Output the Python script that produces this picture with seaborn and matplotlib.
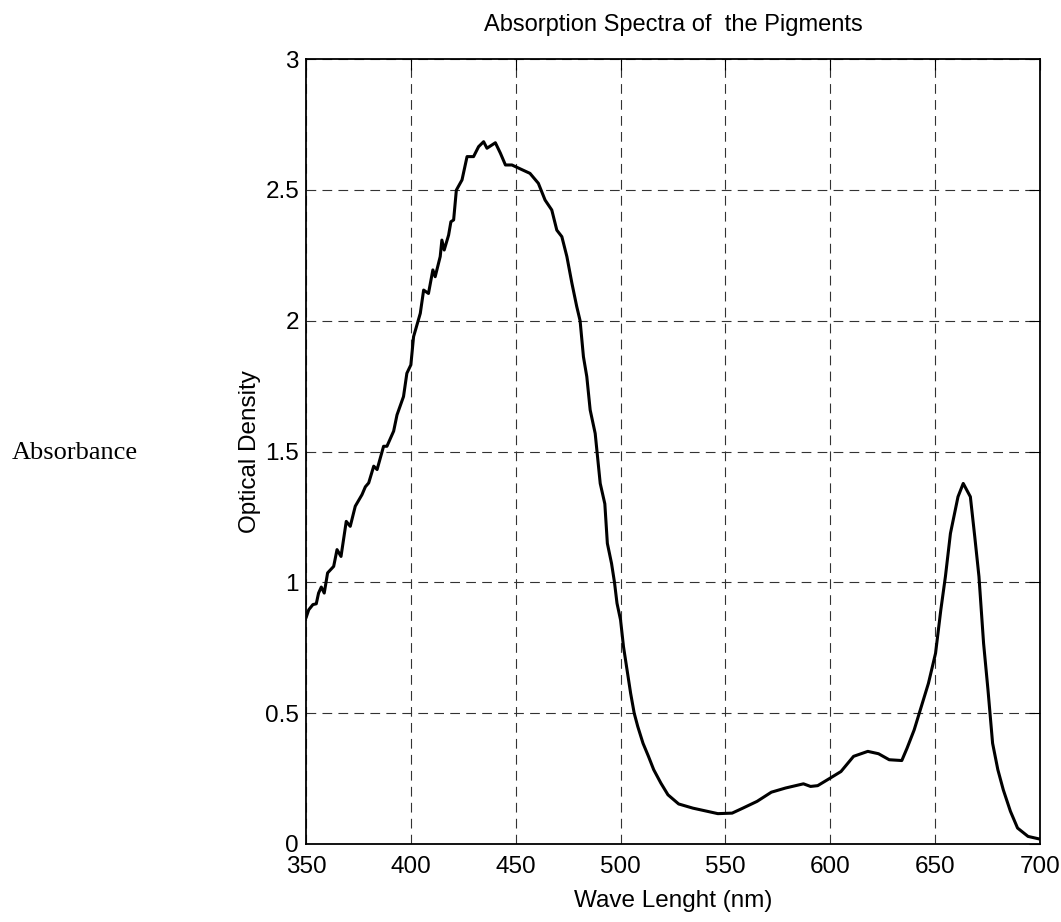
import numpy as np
import pandas as pd
import seaborn as sns
import matplotlib.pyplot as plt

# wavelength (nm) and optical density
wavelength = [350.0, 351.3, 353.3, 354.9, 356.0, 357.3, 358.7, 360.3, 363.2, 364.8,
              366.7, 369.2, 371.1, 373.5, 376.7, 378.3, 379.9, 382.3, 383.9, 387.0,
              388.6, 391.8, 393.4, 396.5, 398.1, 400.0, 401.3, 404.5, 406.1, 408.4,
              410.5, 411.6, 414.0, 414.8, 415.9, 418.0, 419.1, 420.4, 421.7, 424.4,
              426.8, 429.9, 432.3, 434.7, 436.3, 440.3, 442.7, 445.1, 448.2, 452.2,
              456.8, 460.8, 464.0, 467.2, 469.6, 472.0, 474.4, 476.8, 479.1, 480.7,
              482.3, 483.9, 485.5, 487.9, 490.3, 492.5, 493.7, 495.7, 497.1, 498.3,
              500.0, 501.4, 503.1, 504.8, 506.5, 508.2, 510.7, 513.3, 515.8, 519.2,
              522.6, 527.7, 534.5, 541.3, 546.4, 553.2, 558.3, 565.1, 571.9, 578.7,
              587.2, 590.6, 594.0, 600.0, 605.1, 611.1, 617.9, 623.0, 628.1, 634.1,
              636.6, 640.0, 643.4, 646.8, 650.2, 652.7, 654.9, 657.3, 660.9, 663.4,
              666.8, 668.9, 670.9, 673.1, 675.2, 677.4, 679.9, 682.5, 685.9, 689.3,
              694.3, 699.8]
optical_density = [0.864, 0.895, 0.915, 0.918, 0.959, 0.982, 0.959, 1.036, 1.061, 1.125,
                   1.099, 1.233, 1.214, 1.291, 1.335, 1.365, 1.380, 1.444, 1.431, 1.520,
                   1.520, 1.578, 1.640, 1.710, 1.799, 1.831, 1.939, 2.028, 2.117, 2.104,
                   2.194, 2.168, 2.245, 2.308, 2.270, 2.327, 2.378, 2.385, 2.499, 2.538,
                   2.627, 2.627, 2.665, 2.684, 2.659, 2.680, 2.640, 2.595, 2.595, 2.580,
                   2.563, 2.525, 2.461, 2.423, 2.346, 2.321, 2.245, 2.143, 2.054, 2.000,
                   1.862, 1.786, 1.659, 1.569, 1.378, 1.300, 1.149, 1.072, 1.000, 0.920,
                   0.856, 0.754, 0.665, 0.576, 0.500, 0.449, 0.385, 0.335, 0.284, 0.233,
                   0.188, 0.153, 0.137, 0.125, 0.116, 0.118, 0.137, 0.163, 0.198, 0.214,
                   0.230, 0.220, 0.223, 0.252, 0.277, 0.335, 0.354, 0.345, 0.322, 0.319,
                   0.366, 0.436, 0.525, 0.614, 0.729, 0.894, 1.022, 1.187, 1.327, 1.378,
                   1.327, 1.174, 1.022, 0.767, 0.589, 0.385, 0.284, 0.207, 0.125, 0.061,
                   0.029, 0.019]

x_ticks = [350, 400, 450, 500, 550, 600, 650, 700]
y_ticks = [0, 0.5, 1, 1.5, 2, 2.5, 3]
y_ticklabels = ['0', '0.5', '1', '1.5', '2', '2.5', '3']

df = pd.DataFrame({'wavelength': wavelength, 'od': optical_density})

sns.set_style('white')
plt.rcParams['font.family'] = ['Liberation Sans', 'DejaVu Sans']
plt.rcParams['text.color'] = 'black'
plt.rcParams['axes.labelcolor'] = 'black'
plt.rcParams['lines.scale_dashes'] = False

fig = plt.figure(figsize=(10.61, 9.22), dpi=100)
ax = fig.add_axes([0.2884, 0.0846, 0.6918, 0.8514])

sns.lineplot(data=df, x='wavelength', y='od', color='black', linewidth=2.2, ax=ax)

ax.set_xlim(350, 700)
ax.set_ylim(0, 3)
ax.set_xticks(x_ticks)
ax.set_yticks(y_ticks)
ax.set_yticklabels(y_ticklabels)
ax.grid(True, color='#333333', linestyle=(0, (7, 4.5)), linewidth=0.8)
for s in ax.spines.values():
    s.set_color('black')
    s.set_linewidth(1.3)
ax.tick_params(direction='in', length=8, width=0.8, top=True, right=True,
               labelsize=17.5, colors='black')
ax.tick_params(axis='x', pad=9)
ax.tick_params(axis='y', pad=5)

ax.set_xlabel('Wave Lenght (nm)', fontsize=17.5)
ax.set_ylabel('Optical Density', fontsize=17.5)
ax.xaxis.label.set_va('center')
ax.xaxis.set_label_coords(0.5, -0.072)
ax.yaxis.set_label_coords(-0.076, 0.5)
ax.yaxis.label.set_va('center')
ax.set_title('Absorption Spectra of  the Pigments', fontsize=17, pad=20)

fig.text(0.0113, 0.509, 'Absorbance', fontsize=19, family='Liberation Serif',
         ha='left', va='center')

fig.savefig('out.png', dpi=100)
